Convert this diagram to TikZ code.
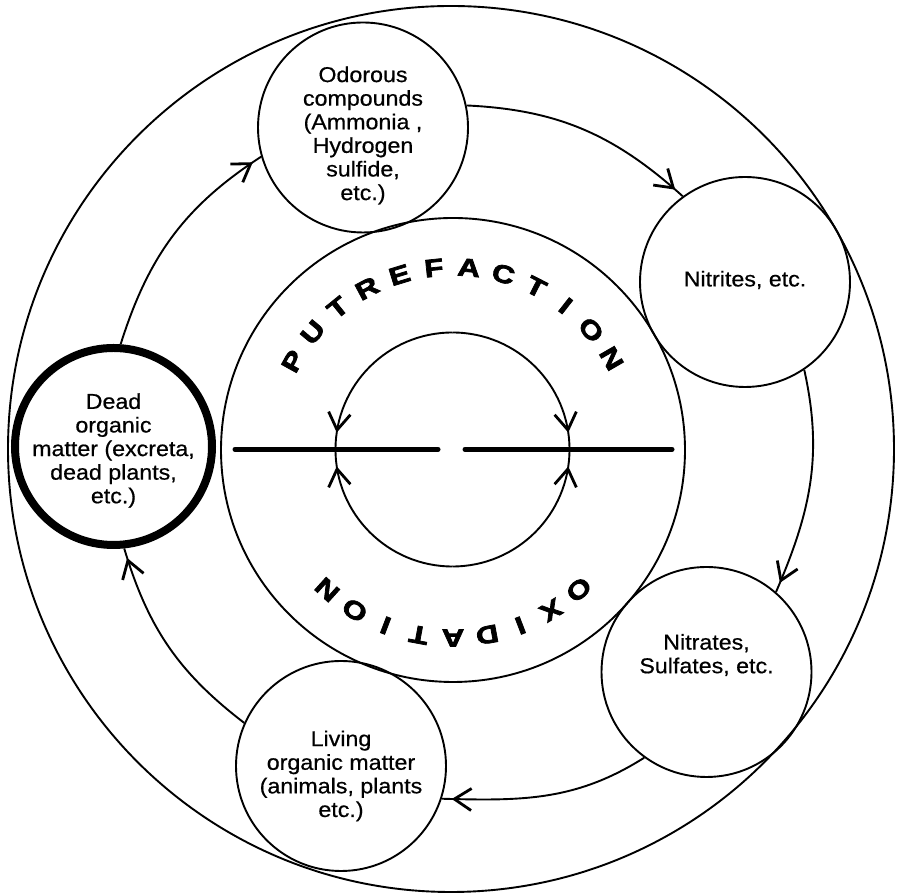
\documentclass[tikz,border=0pt]{standalone}
\usepackage{fontspec}
\setmainfont{Liberation Sans}
\newfontfamily\labfont{Liberation Sans}[FakeStretch=1.08,FakeBold=0.6]
\newfontfamily\ringfont{Liberation Sans Bold}[FakeStretch=1.25,FakeBold=3]
\usetikzlibrary{arrows.meta,decorations.markings,calc}
\begin{document}
\begin{tikzpicture}[x=1pt,y=1pt,
  thinline/.style={line width=1.9pt},
  bubble/.style={circle, draw, line width=1.9pt, minimum size=210pt, inner sep=0pt},
  deadbubble/.style={circle, draw, line width=8pt, minimum size=197pt, inner sep=0pt},
  lab/.style={align=center, font=\labfont\fontsize{21.5}{23.6}\selectfont, inner sep=0pt},
  ringlet/.style={font=\ringfont\fontsize{25}{27}\selectfont, inner sep=0pt},
  barb/.tip={Straight Barb[length=17pt,width=22pt,line width=2.8pt]},
  flow/.style={line width=1.9pt, postaction=decorate,
    decoration={markings, mark=at position -10pt with {\arrow{barb}}}},
  innerflow/.style={line width=1.9pt, postaction=decorate,
    decoration={markings, mark=at position -17pt with {\arrow{barb}}}},
  divider/.style={line width=5pt, line cap=round}]
\useasboundingbox (0,0) rectangle (897,893);
% outer circle
\coordinate (oc) at (451,444);
\draw[thinline] (oc) circle[radius=443];
% middle ring
\coordinate (mid) at (453,443);
\draw[thinline] (mid) circle[radius=232];
% inner circle with arrows
\coordinate (ic) at (452.5,443.5);
\draw[innerflow] ([shift={(90:117)}]ic) arc[start angle=90,end angle=180,radius=117];
\draw[innerflow] ([shift={(270:117)}]ic) arc[start angle=270,end angle=180,radius=117];
\draw[innerflow] ([shift={(90:117)}]ic) arc[start angle=90,end angle=0,radius=117];
\draw[innerflow] ([shift={(270:117)}]ic) arc[start angle=270,end angle=360,radius=117];
% divider lines
\coordinate (la) at (235,443.7);
\coordinate (lb) at (438,443.7);
\coordinate (ra) at (465,443.7);
\coordinate (rb) at (672,443.7);
\draw[divider] (la) -- (lb);
\draw[divider] (ra) -- (rb);
% ring texts
\foreach \l [count=\i from 0] in {P,U,T,R,E,F,A,C,T,I,O,N}{
  \pgfmathsetmacro\ang{151-11*\i}
  \node[ringlet, rotate=\ang-90] (put\i) at ([shift={(\ang:183)}]mid) {\l};
}
\foreach \l [count=\i from 0] in {O,X,I,D,A,T,I,O,N}{
  \pgfmathsetmacro\ang{-48-10.5*\i}
  \node[ringlet, rotate=\ang-90] (oxi\i) at ([shift={(\ang:188)}]mid) {\l};
}
% bubbles
\node[bubble] (odor) at (363,765.5) {};
\node[bubble] (nitrites) at (745,611) {};
\node[bubble] (nitrates) at (706.5,221) {};
\node[bubble] (living) at (341,127) {};
\node[deadbubble] (dead) at (113.5,446.5) {};
% texts
\node[lab] (odorT) at ([yshift=-8pt]odor.center) {Odorous\\compounds\\(Ammonia ,\\Hydrogen\\sulfide,\\etc.)};
\node[lab] (nitritesT) at ([yshift=2pt]nitrites.center) {Nitrites, etc.};
\node[lab] (nitratesT) at ([yshift=17pt]nitrates.center) {Nitrates,\\Sulfates, etc.};
\node[lab] (livingT) at ([yshift=-10pt]living.center) {Living\\organic matter\\(animals, plants\\etc.)};
\node[lab] (deadT) at ([yshift=-4pt]dead.center) {Dead\\organic\\matter (excreta,\\dead plants,\\etc.)};
% connectors
\draw[flow] (dead.86) to[out=72.5,in=213] (odor.196);
\draw[flow] (odor.12) to[out=-2.7,in=138] (nitrites.126);
\draw[flow] (nitrites.304) to[out=-77.5,in=66.7] (nitrates.49);
\draw[flow] (nitrates.234) to[out=-147.7,in=-1.6] (living.342);
\draw[flow] (living.156) to[out=142.5,in=-73.3] (dead.276);
\end{tikzpicture}
\end{document}
